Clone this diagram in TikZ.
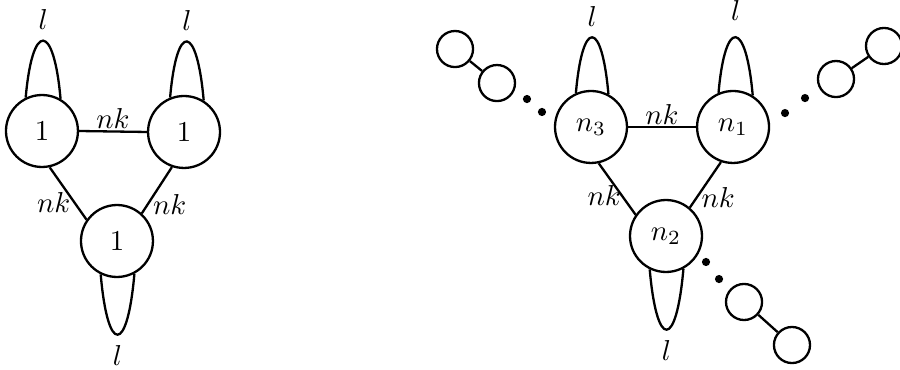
\documentclass[tikz,border=0pt]{standalone}
\begin{document}
\begin{tikzpicture}[thick,
  vert/.style={circle, draw, minimum size=0.878cm, inner sep=0pt},
  bola/.style={circle, draw, minimum size=0.44cm, inner sep=0pt},
  ponto/.style={circle, fill, minimum size=0.1cm, inner sep=0pt}]
\useasboundingbox (0,0) rectangle (10.98,-4.502);
% Grafo da esquerda
\node[vert] (A) at (0.512,-1.598) {$1$};
\node[vert] (B) at (2.245,-1.610) {$1$};
\node[vert] (C) at (1.427,-2.940) {$1$};
\draw (A.116) .. controls +(85:0.94) and +(95:0.94) .. (A.60) node[midway, above] {$l$};
\draw (B.112) .. controls +(85:0.94) and +(95:0.94) .. (B.58) node[midway, above] {$l$};
\draw (C.244) .. controls +(-85:0.99) and +(-95:0.99) .. (C.298) node[midway, below] {$l$};
\draw (A.east) -- (B.west) node[midway, above, inner sep=0.5pt] {$nk$};
\draw (A.-78) -- (C.145) node[pos=0.67, left, inner sep=1pt] {$nk$};
\draw (B.-109) -- (C.48) node[pos=0.81, right, inner sep=1.5pt] {$nk$};
% Grafo da direita
\node[vert] (n3) at (7.210,-1.549) {$n_3$};
\node[vert] (n1) at (8.943,-1.549) {$n_1$};
\node[vert] (n2) at (8.125,-2.879) {$n_2$};
\draw (n3.114) .. controls +(85:0.92) and +(95:0.92) .. (n3.62) node[midway, above] {$l$};
\draw (n1.113) .. controls +(85:0.93) and +(95:0.93) .. (n1.58) node[midway, above=2pt] {$l$};
\draw (n2.244) .. controls +(-85:0.99) and +(-95:0.99) .. (n2.298) node[midway, below] {$l$};
\draw (n3.east) -- (n1.west) node[midway, above, inner sep=0.5pt] {$nk$};
\draw (n3.-78) -- (n2.145) node[pos=0.63, left, inner sep=0pt] {$nk$};
\draw (n1.-109) -- (n2.50) node[pos=0.77, right, inner sep=1.2pt] {$nk$};
% Cadeias
\node[bola] (s1) at (5.551,-0.598) {};
\node[bola] (s2) at (6.063,-1.013) {};
\node[ponto] (d1) at (6.429,-1.208) {};
\node[ponto] (d2) at (6.612,-1.366) {};
\draw (s1) -- (s2);
\node[bola] (s3) at (10.199,-0.964) {};
\node[bola] (s4) at (10.785,-0.561) {};
\node[ponto] (d3) at (9.577,-1.379) {};
\node[ponto] (d4) at (9.821,-1.196) {};
\draw (s3) -- (s4);
\node[bola] (s5) at (9.077,-3.684) {};
\node[bola] (s6) at (9.662,-4.209) {};
\node[ponto] (d5) at (8.613,-3.196) {};
\node[ponto] (d6) at (8.772,-3.404) {};
\draw (s5) -- (s6);
\end{tikzpicture}
\end{document}
